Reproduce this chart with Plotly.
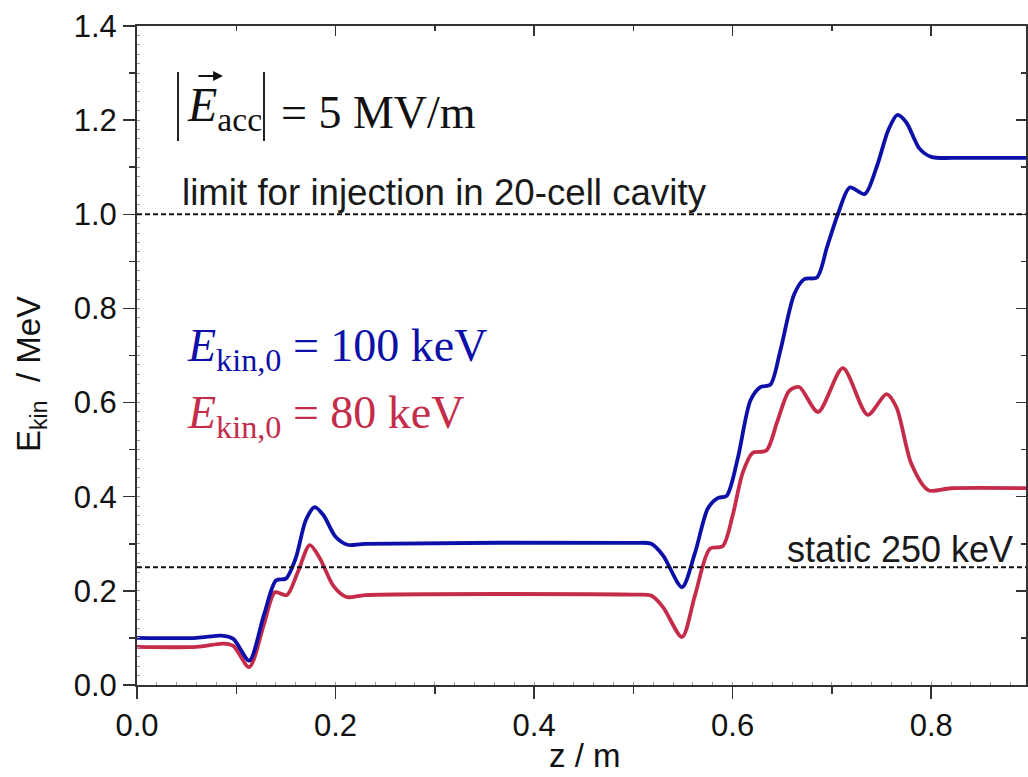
import plotly.graph_objects as go

# ---- data ----
z_100 = [0.0, 0.06, 0.085, 0.097, 0.113, 0.128, 0.140, 0.150, 0.160, 0.170, 0.179, 0.188, 0.200, 0.212, 0.230,
         0.500, 0.518, 0.530, 0.549, 0.562, 0.575, 0.585, 0.594, 0.605, 0.618, 0.628, 0.638, 0.648, 0.662, 0.672,
         0.685, 0.695, 0.706, 0.718, 0.733, 0.745, 0.757, 0.766, 0.775, 0.788, 0.800, 0.830, 0.900]
e_100 = [0.100, 0.100, 0.105, 0.098, 0.052, 0.150, 0.222, 0.226, 0.270, 0.350, 0.378, 0.360, 0.315, 0.298, 0.300,
         0.302, 0.300, 0.275, 0.208, 0.280, 0.375, 0.397, 0.402, 0.480, 0.605, 0.633, 0.638, 0.710, 0.830, 0.862,
         0.866, 0.930, 1.000, 1.057, 1.043, 1.100, 1.180, 1.211, 1.195, 1.140, 1.122, 1.120, 1.120]

z_80 = [0.0, 0.06, 0.087, 0.097, 0.113, 0.128, 0.139, 0.151, 0.162, 0.174, 0.184, 0.198, 0.211, 0.230,
        0.500, 0.518, 0.530, 0.549, 0.562, 0.577, 0.590, 0.600, 0.610, 0.620, 0.634, 0.645, 0.657, 0.667,
        0.686, 0.711, 0.736, 0.755, 0.765, 0.780, 0.797, 0.820, 0.900]
e_80 = [0.081, 0.081, 0.088, 0.083, 0.038, 0.130, 0.197, 0.191, 0.240, 0.297, 0.270, 0.210, 0.187, 0.191,
        0.192, 0.190, 0.165, 0.102, 0.190, 0.289, 0.295, 0.360, 0.450, 0.493, 0.498, 0.560, 0.625, 0.633,
        0.580, 0.673, 0.574, 0.618, 0.590, 0.470, 0.414, 0.418, 0.418]

limit_injection = 1.0
static_limit = 0.25

x_ticks = [0.0, 0.2, 0.4, 0.6, 0.8]
y_ticks = [0.0, 0.2, 0.4, 0.6, 0.8, 1.0, 1.2, 1.4]
x_range = [0, 0.8955]
y_range = [0, 1.4]

BLUE = "#0c10a8"
RED = "#c42c4a"

# plot area in pixels
L, R, T, B = 137, 1026, 26, 685
W, H = 1028, 777


def px(xp):
    return (xp - L) / (R - L)


def py(yp):
    return (B - yp) / (B - T)


fig = go.Figure()
fig.add_trace(go.Scatter(x=z_80, y=e_80, mode="lines",
                         line=dict(color=RED, width=3.8, shape="spline", smoothing=0.8),
                         showlegend=False, hoverinfo="skip"))
fig.add_trace(go.Scatter(x=z_100, y=e_100, mode="lines",
                         line=dict(color=BLUE, width=3.8, shape="spline", smoothing=0.8),
                         showlegend=False, hoverinfo="skip"))
# empty traces so that the mirrored / fine tick axes get drawn
fig.add_trace(go.Scatter(x=[None], y=[None], xaxis="x2", yaxis="y2", showlegend=False, hoverinfo="skip"))
fig.add_trace(go.Scatter(x=[None], y=[None], xaxis="x3", yaxis="y3", showlegend=False, hoverinfo="skip"))

# dashed reference lines
for yv in (limit_injection, static_limit):
    fig.add_shape(type="line", xref="paper", x0=0, x1=1, yref="y", y0=yv, y1=yv,
                  line=dict(color="#111", width=2, dash="5px,3px"), layer="above")

sans = "Liberation Sans, Arial, sans-serif"
serif = "Liberation Serif, Times New Roman, serif"

ann = []
ann.append(dict(text="limit for injection in 20-cell cavity", x=px(180), y=py(215),
                xanchor="left", yanchor="bottom", font=dict(family=sans, size=36.7, color="#1a1a1a")))
ann.append(dict(text="static 250 keV", x=px(1015), y=py(572),
                xanchor="right", yanchor="bottom", font=dict(family=sans, size=36, color="#1a1a1a")))
ann.append(dict(text="<i>E</i><sub>acc</sub>", x=px(185), y=py(140),
                xanchor="left", yanchor="bottom", font=dict(family=serif, size=48, color="#111")))
ann.append(dict(text="= 5 MV/m", x=px(279), y=py(140),
                xanchor="left", yanchor="bottom", font=dict(family=serif, size=46, color="#111")))
ann.append(dict(text="", x=px(223), y=py(76), showarrow=True, ax=-26, ay=0,
                arrowhead=2, arrowsize=1.1, arrowwidth=1.8, arrowcolor="#111"))
ann.append(dict(text="<i>E</i><sub>kin,0</sub> = 100 keV", x=px(185), y=py(380),
                xanchor="left", yanchor="bottom", font=dict(family=serif, size=46, color=BLUE)))
ann.append(dict(text="<i>E</i><sub>kin,0</sub> = 80 keV", x=px(185), y=py(447),
                xanchor="left", yanchor="bottom", font=dict(family=serif, size=46, color=RED)))
# axis titles
ann.append(dict(text="E<sub>kin</sub>  / MeV", x=px(31), y=py(374), textangle=-90,
                xanchor="center", yanchor="middle", font=dict(family=sans, size=33, color="#111")))
ann.append(dict(text="z / m", x=px(585), y=py(776), xanchor="center", yanchor="bottom",
                font=dict(family=sans, size=33, color="#111")))
for a in ann:
    a.setdefault("showarrow", False)
    a["xref"] = "paper"
    a["yref"] = "paper"
fig.update_layout(annotations=ann)

# absolute-value bars
for xb in (178, 264):
    fig.add_shape(type="line", xref="paper", yref="paper", x0=px(xb), x1=px(xb),
                  y0=py(72), y1=py(141), line=dict(color="#222", width=2))

axis_line = dict(showline=True, linecolor="#333", linewidth=2, showgrid=False, zeroline=False,
                 automargin=False)
hidden = dict(showticklabels=False, showline=False, showgrid=False, zeroline=False)

fig.update_layout(
    width=W, height=H,
    margin=dict(l=L, r=W - R, t=T, b=H - B),
    paper_bgcolor="white", plot_bgcolor="white",
    xaxis=dict(range=x_range, tickvals=x_ticks, tickformat=".1f", ticks="outside",
               ticklen=12, tickwidth=1.5, tickcolor="#333", mirror=True,
               minor=dict(dtick=0.1, ticklen=7, ticks="outside", tickcolor="#333", tickwidth=1.5),
               tickfont=dict(family=sans, size=31, color="#111"),
               **axis_line),
    yaxis=dict(range=y_range, tickvals=y_ticks, tickformat=".1f", ticks="outside",
               ticklen=12, tickwidth=1.5, tickcolor="#333", mirror=True,
               minor=dict(dtick=0.1, ticklen=6, ticks="outside", tickcolor="#333", tickwidth=1.5),
               tickfont=dict(family=sans, size=31, color="#111"),
               **axis_line),
    xaxis2=dict(range=x_range, overlaying="x", side="top", anchor="y2", tickvals=x_ticks,
                ticks="inside", ticklen=10, tickwidth=1.5, tickcolor="#333",
                minor=dict(dtick=0.1, ticklen=5, ticks="inside", tickcolor="#333", tickwidth=1.5),
                **hidden),
    yaxis2=dict(range=y_range, overlaying="y", side="right", anchor="x2", tickvals=y_ticks,
                ticks="inside", ticklen=10, tickwidth=1.5, tickcolor="#333",
                minor=dict(dtick=0.1, ticklen=5, ticks="inside", tickcolor="#333", tickwidth=1.5),
                **hidden),
    xaxis3=dict(range=x_range, overlaying="x", side="bottom", anchor="y3", dtick=0.02,
                ticks="inside", ticklen=3, tickwidth=1, tickcolor="#999", **hidden),
    yaxis3=dict(range=y_range, overlaying="y", side="left", anchor="x3", dtick=0.02,
                ticks="inside", ticklen=3, tickwidth=1, tickcolor="#999", **hidden),
    hovermode=False,
)

fig.write_html("out.html", config={"displayModeBar": False, "staticPlot": True})
